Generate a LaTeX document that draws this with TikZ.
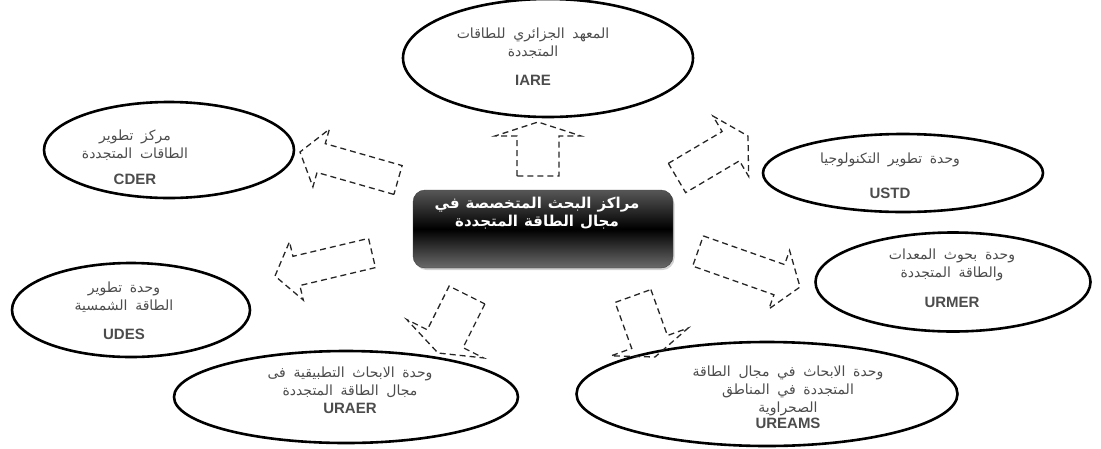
\documentclass[tikz,border=0pt]{standalone}
\usepackage{fontspec}
\setmainfont{Liberation Sans}
\newfontfamily\arabicfont[Script=Arabic]{DejaVu Sans}
\newfontfamily\latinfont{Liberation Sans}
\TeXXeTstate=1
\usetikzlibrary{calc,shapes.geometric,shadows}
\newcommand{\unitcode}[1]{{\latinfont\bfseries\fontsize{15}{17}\selectfont #1}}
\newcommand{\widespace}[1]{\spaceskip=#1\relax}

\begin{document}
\begin{tikzpicture}[
    x=1pt, y=-1pt,
    unit/.style={ellipse, draw, line width=2.6pt, inner sep=0pt},
    unit text/.style={align=center, text=black!70,
      font=\arabicfont\fontsize{14}{18}\selectfont\widespace{0.55em}},
    flow/.style={draw=black!85, line width=1.3pt, dash pattern=on 6pt off 4pt},
    hub/.style={rounded corners=12pt, draw=black!75, top color=black!66,
      bottom color=black!58, middle color=black, minimum width=260pt,
      minimum height=78pt,
      drop shadow={opacity=0.35, shadow xshift=1.5pt, shadow yshift=-2pt}}
  ]

  \useasboundingbox (0,0) rectangle (1101,448);

  % centre
  \node[hub] (hub) at (543,229) {};
  \node[align=center, text=white,
  font=\arabicfont\bfseries\fontsize{15}{18}\selectfont\widespace{0.4em}]
  (hub-t) at (537,213) {\beginR مراكز البحث المتخصصة في\endR\\
    \beginR مجال الطاقة المتجددة\endR};

  % units
  \node[unit, minimum width=290pt, minimum height=118pt] (iare) at (548,58) {};
  \node[unit, minimum width=250pt, minimum height=96pt] (cder) at (169,150) {};
  \node[unit, minimum width=280pt, minimum height=78pt] (ustd) at (903,173) {};
  \node[unit, minimum width=275pt, minimum height=99pt] (urmer) at (953,282) {};
  \node[unit, minimum width=238pt, minimum height=94pt] (udes) at (131,310) {};
  \node[unit, minimum width=344pt, minimum height=92pt] (uraer) at (346,397) {};
  \node[unit, minimum width=381pt, minimum height=104pt] (ureams) at (767,394) {};

  \node[unit text] (iare-t) at (533,57) {\beginR المعهد الجزائري للطاقات\endR\\
    \beginR المتجددة\endR\\[11pt]\unitcode{IARE}};
  \node[unit text] (cder-t) at (135,157) {\beginR مركز تطوير\endR\\
    \beginR الطاقات المتجددة\endR\\[8pt]\unitcode{CDER}};
  \node[unit text] (ustd-t) at (890,176) {\beginR وحدة تطوير التكنولوجيا\endR\\[17pt]
    \unitcode{USTD}};
  \node[unit text] (urmer-t) at (952,278) {\beginR وحدة بحوث المعدات\endR\\
    \beginR والطاقة المتجددة\endR\\[12pt]\unitcode{URMER}};
  \node[unit text] (udes-t) at (124,311) {\beginR وحدة تطوير\endR\\
    \beginR الطاقة الشمسية\endR\\[11pt]\unitcode{UDES}};
  \node[unit text] (uraer-t) at (350,390) {\beginR وحدة الابحاث التطبيقية فى\endR\\
    \beginR مجال الطاقة المتجددة\endR\\[0pt]\unitcode{URAER}};
  \node[unit text] (ureams-t) at (788,397) {\beginR وحدة الابحاث في مجال الطاقة\endR\\
    \beginR المتجددة في المناطق\endR\\
    \beginR الصحراوية\endR\\[-2pt]\unitcode{UREAMS}};

  % dashed block arrows
  \coordinate (iare-a) at (538,176);   \coordinate (iare-b) at (538,122);
  \coordinate (cder-a) at (398,180);   \coordinate (cder-b) at (300,152);
  \coordinate (ustd-a) at (677,178);   \coordinate (ustd-b) at (748,136);
  \coordinate (udes-a) at (372,253);   \coordinate (udes-b) at (275,276);
  \coordinate (uraer-a) at (467,295);  \coordinate (uraer-b) at (438,353);
  \coordinate (ureams-a) at (633,296); \coordinate (ureams-b) at (655,357);
  \coordinate (urmer-a) at (698,251);  \coordinate (urmer-b) at (800,287);

  \foreach \u/\sw/\hw/\hl in {iare/21pt/43pt/14pt, cder/15pt/30pt/22pt,
    ustd/17pt/35pt/20pt, udes/15pt/30pt/22pt, uraer/20pt/43pt/16pt,
    ureams/19pt/41pt/16pt, urmer/16pt/31pt/22pt} {
    \coordinate (base) at ($(\u-b)!\hl!(\u-a)$);
    \draw[flow] ($(\u-a)!\sw!90:(\u-b)$) -- ($(base)!\sw!90:(\u-b)$)
    -- ($(base)!\hw!90:(\u-b)$) -- (\u-b) -- ($(base)!\hw!-90:(\u-b)$)
    -- ($(base)!\sw!-90:(\u-b)$) -- ($(\u-a)!\sw!-90:(\u-b)$) -- cycle;
  }

\end{tikzpicture}
\end{document}
